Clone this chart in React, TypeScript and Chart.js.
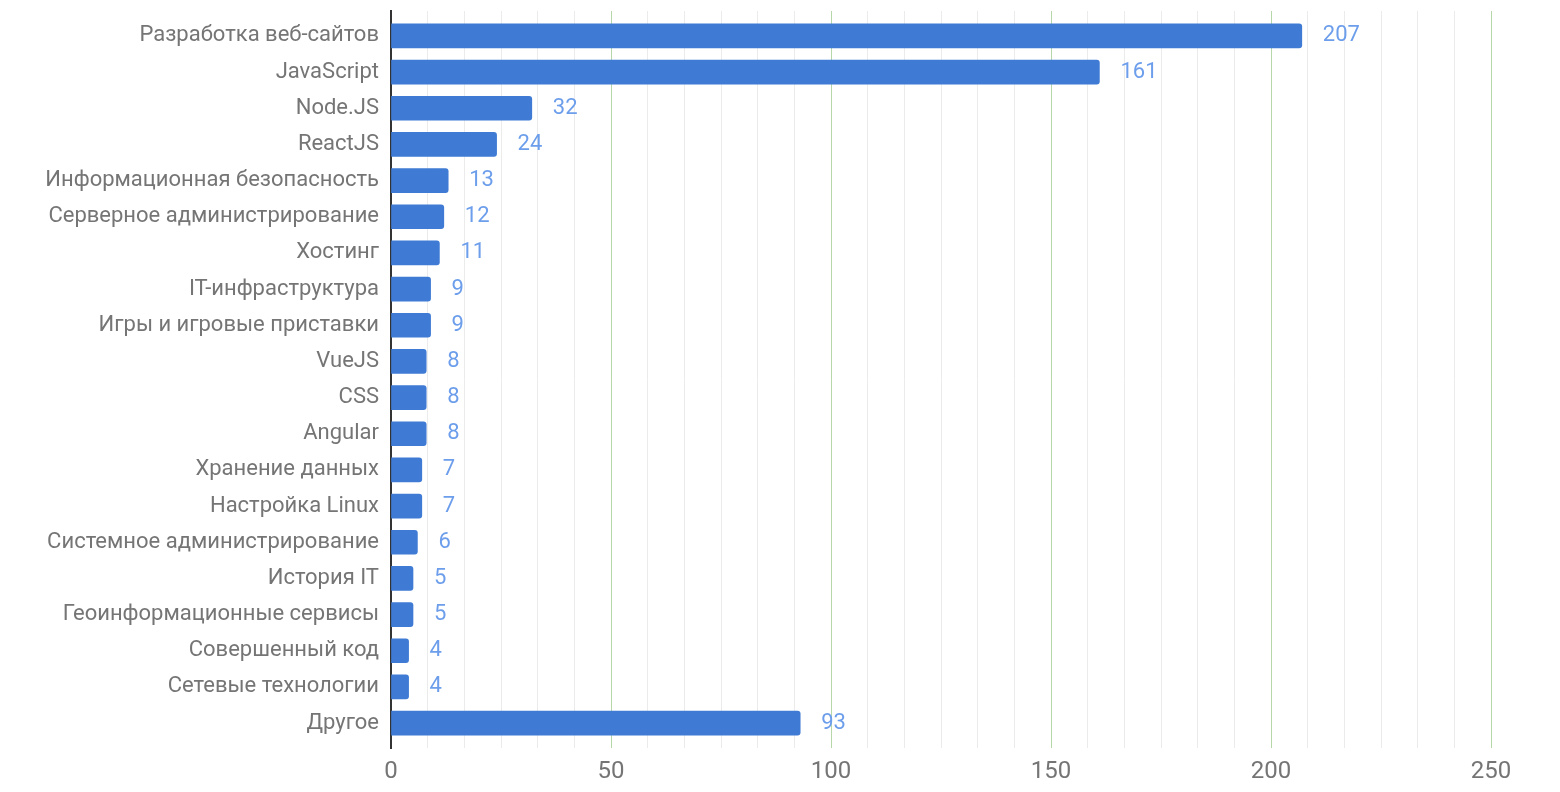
import React, { useEffect, useRef } from "react";
import { Chart, registerables } from "chart.js";

Chart.register(...registerables);

const categories = [
  "Разработка веб-сайтов",
  "JavaScript",
  "Node.JS",
  "ReactJS",
  "Информационная безопасность",
  "Серверное администрирование",
  "Хостинг",
  "IT-инфраструктура",
  "Игры и игровые приставки",
  "VueJS",
  "CSS",
  "Angular",
  "Хранение данных",
  "Настройка Linux",
  "Системное администрирование",
  "История IT",
  "Геоинформационные сервисы",
  "Совершенный код",
  "Сетевые технологии",
  "Другое",
];

const values = [207, 161, 32, 24, 13, 12, 11, 9, 9, 8, 8, 8, 7, 7, 6, 5, 5, 4, 4, 93];

const xMax = 250;
const majorStep = 50;
const minorDivisions = 6;

const FONT = "Roboto, 'Noto Sans', sans-serif";
const BAR = "#3f7bd4";
const LABEL_BLUE = "#6d9eeb";
const TEXT_GRAY = "#757575";
const MAJOR_GRID = "#b6d7a8";
const MINOR_GRID = "#ebebeb";

const tickCount = (xMax / majorStep) * minorDivisions + 1;
const gridColors = Array.from({ length: tickCount }, (_, k) => (k % minorDivisions === 0 ? MAJOR_GRID : MINOR_GRID));
const majorValues = Array.from({ length: xMax / majorStep }, (_, k) => (k + 1) * majorStep);

const majorGrid = {
  id: "majorGrid",
  beforeDatasetsDraw(chart: any) {
    const { ctx, chartArea, scales } = chart;
    ctx.save();
    ctx.strokeStyle = MAJOR_GRID;
    ctx.lineWidth = 1;
    majorValues.forEach((v) => {
      const x = Math.round(scales.x.getPixelForValue(v) - 0.5) + 0.5;
      ctx.beginPath();
      ctx.moveTo(x, chartArea.top);
      ctx.lineTo(x, chartArea.bottom);
      ctx.stroke();
    });
    ctx.restore();
  },
};

const valueLabels = {
  id: "valueLabels",
  afterDatasetsDraw(chart: any) {
    const ctx = chart.ctx;
    const meta = chart.getDatasetMeta(0);
    ctx.save();
    ctx.font = `22px ${FONT}`;
    ctx.fillStyle = LABEL_BLUE;
    ctx.textAlign = "left";
    ctx.textBaseline = "middle";
    meta.data.forEach((el: any, i: number) => {
      ctx.fillText(String(values[i]), el.x + 21, el.y);
    });
    ctx.restore();
  },
};

export default function App() {
  const ref = useRef<HTMLCanvasElement>(null);
  useEffect(() => {
    document.body.style.margin = "0";
    const yMin = -0.69;
    const yMax = categories.length - 1 + 0.69;
    const chart = new Chart(ref.current!, {
      type: "bar",
      data: {
        datasets: [
          {
            data: values.map((v, i) => ({ x: v, y: i })),
            backgroundColor: BAR,
            borderRadius: 3,
            borderSkipped: "start",
            barThickness: 24,
          },
        ],
      },
      options: {
        indexAxis: "y",
        animation: false,
        responsive: false,
        layout: { padding: { top: 11, right: 69, left: 0, bottom: 0 } },
        plugins: { legend: { display: false }, tooltip: { enabled: false } },
        scales: {
          x: {
            type: "linear",
            min: 0,
            max: xMax,
            afterBuildTicks: (s: any) => {
              s.ticks = Array.from({ length: tickCount }, (_, k) => ({ value: (k * majorStep) / minorDivisions }));
            },
            afterFit: (s: any) => {
              s.height = 44;
              s.paddingLeft = 0;
              s.paddingRight = 0;
            },
            grid: {
              drawTicks: false,
              lineWidth: 1,
              color: gridColors,
            },
            border: { display: false },
            ticks: {
              autoSkip: false,
              maxRotation: 0,
              padding: 10,
              color: TEXT_GRAY,
              font: { family: FONT, size: 24 },
              callback: (_v: any, k: number) => (k % minorDivisions === 0 ? String((k / minorDivisions) * majorStep) : ""),
            },
          },
          y: {
            type: "linear",
            reverse: true,
            offset: false,
            min: yMin,
            max: yMax,
            afterBuildTicks: (s: any) => {
              s.ticks = categories.map((_, i) => ({ value: i }));
              s.min = yMin;
              s.max = yMax;
            },
            afterFit: (s: any) => {
              s.width = 391;
              s.paddingTop = 0;
              s.paddingBottom = 0;
            },
            grid: { display: false, drawTicks: false, offset: false },
            border: { display: true, color: "#333333", width: 2 },
            ticks: {
              autoSkip: false,
              padding: 12,
              color: TEXT_GRAY,
              font: { family: FONT, size: 22 },
              callback: (v: any) => categories[Number(v)] ?? "",
            },
          },
        },
      },
      plugins: [majorGrid, valueLabels],
    } as any);
    return () => chart.destroy();
  }, []);
  return <canvas ref={ref} width={1560} height={792} style={{ display: "block" }} />;
}
